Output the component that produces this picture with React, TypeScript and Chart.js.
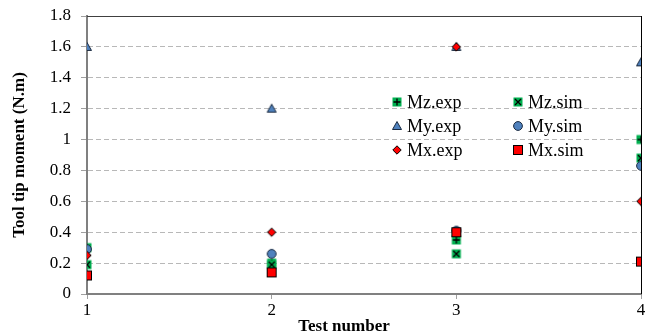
import React, { useEffect, useRef } from "react";
import { Chart, registerables } from "chart.js";

Chart.register(...registerables);

// Test numbers along the x axis
const testNumbers = [1, 2, 3, 4];

// Tool tip moments (N.m) per test
const mzExp = [0.3, 0.2, 0.35, 1.0];
const mzSim = [0.19, 0.19, 0.26, 0.88];
const myExp = [1.6, 1.2, 1.6, 1.5];
const mySim = [0.29, 0.26, 0.41, 0.83];
const mxExp = [0.25, 0.4, 1.6, 0.6];
const mxSim = [0.12, 0.14, 0.4, 0.21];

const yTicks = [0, 0.2, 0.4, 0.6, 0.8, 1, 1.2, 1.4, 1.6, 1.8];
const xTicks = [1, 2, 3, 4];

const seriesNames = ["Mz.exp", "Mz.sim", "My.exp", "My.sim", "Mx.exp", "Mx.sim"];

const FONT = "'Liberation Serif', 'Times New Roman', serif";
const GREEN = "#00b050";
const BLUE = "#4f81bd";
const RED = "#ff0000";

type Kind = "greenPlus" | "greenCross" | "triangle" | "circle" | "diamond" | "redSquare";

function makeMarker(kind: Kind): HTMLCanvasElement {
  const s = 12;
  const c = document.createElement("canvas");
  c.width = s;
  c.height = s;
  const g = c.getContext("2d")!;
  const m = s / 2;
  g.lineWidth = 1;
  if (kind === "greenPlus" || kind === "greenCross") {
    g.fillStyle = GREEN;
    g.fillRect(1.5, 1.5, 9, 9);
    g.strokeStyle = "#000";
    g.lineWidth = 1.3;
    g.beginPath();
    if (kind === "greenPlus") {
      g.moveTo(m, 2.5);
      g.lineTo(m, 9.5);
      g.moveTo(2.5, m);
      g.lineTo(9.5, m);
    } else {
      g.moveTo(3, 3);
      g.lineTo(9, 9);
      g.moveTo(9, 3);
      g.lineTo(3, 9);
    }
    g.stroke();
  } else if (kind === "triangle") {
    g.fillStyle = BLUE;
    g.strokeStyle = "#1a2a40";
    g.beginPath();
    g.moveTo(m, 1.5);
    g.lineTo(10.5, 9.5);
    g.lineTo(1.5, 9.5);
    g.closePath();
    g.fill();
    g.stroke();
  } else if (kind === "circle") {
    g.fillStyle = BLUE;
    g.strokeStyle = "#1a2a40";
    g.beginPath();
    g.arc(m, m, 4.4, 0, Math.PI * 2);
    g.fill();
    g.stroke();
  } else if (kind === "diamond") {
    g.fillStyle = RED;
    g.strokeStyle = "#000";
    g.beginPath();
    g.moveTo(m, 1.8);
    g.lineTo(10.2, m);
    g.lineTo(m, 10.2);
    g.lineTo(1.8, m);
    g.closePath();
    g.fill();
    g.stroke();
  } else {
    g.fillStyle = RED;
    g.strokeStyle = "#000";
    g.fillRect(1.5, 1.5, 9, 9);
    g.strokeRect(1.5, 1.5, 9, 9);
  }
  return c;
}

export default function App() {
  const ref = useRef<HTMLCanvasElement | null>(null);

  useEffect(() => {
    if (!ref.current) return;
    const kinds: Kind[] = ["greenPlus", "greenCross", "triangle", "circle", "diamond", "redSquare"];
    const markers = kinds.map(makeMarker);
    const values = [mzExp, mzSim, myExp, mySim, mxExp, mxSim];
    // lower order is drawn on top
    const orders = [5, 4, 3, 2, 1, 0];

    const datasets = seriesNames.map((name, i) => ({
      label: name,
      data: testNumbers.map((t, j) => ({ x: t, y: values[i][j] })),
      pointStyle: markers[i] as any,
      pointRadius: 5,
      showLine: false,
      order: orders[i],
    }));

    const decor = {
      id: "decor",
      afterDatasetsDraw(chart: any) {
        const { ctx, chartArea: a } = chart;
        ctx.save();
        // frame: top and right edges
        ctx.strokeStyle = "#404040";
        ctx.lineWidth = 1;
        ctx.beginPath();
        ctx.moveTo(a.left, a.top + 0.5);
        ctx.lineTo(a.right, a.top + 0.5);
        ctx.stroke();
        ctx.strokeStyle = "#000";
        ctx.beginPath();
        ctx.moveTo(a.right + 0.5, a.top);
        ctx.lineTo(a.right + 0.5, a.bottom);
        ctx.stroke();

        // legend
        ctx.font = `18px ${FONT}`;
        ctx.fillStyle = "#000";
        ctx.textBaseline = "middle";
        ctx.textAlign = "left";
        const colX = [397, 518];
        const rowY = [102, 126, 150];
        seriesNames.forEach((name, i) => {
          const cx = colX[i % 2];
          const cy = rowY[Math.floor(i / 2)];
          const m = markers[i];
          ctx.drawImage(m, cx - m.width / 2, cy - m.height / 2);
          ctx.fillText(name, cx + 10, cy + 1);
        });

        // axis titles
        ctx.font = `bold 17px ${FONT}`;
        ctx.textAlign = "center";
        ctx.fillText("Test number", 344, 327);
        ctx.translate(20, (a.top + a.bottom) / 2);
        ctx.rotate(-Math.PI / 2);
        ctx.fillText("Tool tip moment (N.m)", 0, 0);
        ctx.restore();
      },
    };

    const chart = new Chart(ref.current, {
      type: "scatter",
      data: { datasets: datasets as any },
      options: {
        animation: false,
        responsive: false,
        layout: { padding: { top: 16, right: 21, left: 0, bottom: 0 } },
        plugins: { legend: { display: false }, tooltip: { enabled: false } },
        scales: {
          x: {
            type: "linear",
            min: 1,
            max: 4,
            afterBuildTicks: (s: any) => {
              s.ticks = xTicks.map((v) => ({ value: v }));
            },
            afterFit: (s: any) => {
              s.height = 42;
              s.paddingLeft = 0;
              s.paddingRight = 0;
            },
            grid: {
              drawOnChartArea: false,
              drawTicks: true,
              tickLength: 5,
              tickColor: "#a0a0a0",
            },
            border: { display: true, color: "#808080", width: 2 },
            ticks: {
              color: "#000",
              font: { family: FONT, size: 17 },
              padding: 1,
              maxRotation: 0,
              callback: (v: any) => String(v),
            },
          },
          y: {
            type: "linear",
            min: 0,
            max: 1.8,
            afterBuildTicks: (s: any) => {
              s.ticks = yTicks.map((v) => ({ value: v }));
            },
            afterFit: (s: any) => {
              s.width = 87;
              s.paddingTop = 0;
              s.paddingBottom = 0;
            },
            grid: {
              color: (c: any) => (c.tick && c.tick.value >= 1.8 ? "rgba(0,0,0,0)" : "#b8b8b8"),
              lineWidth: 1,
              drawTicks: true,
              tickLength: 6,
              tickColor: "#a0a0a0",
              tickBorderDash: [],
            } as any,
            border: { display: true, color: "#808080", width: 2, dash: [5, 3] },
            ticks: {
              color: "#000",
              font: { family: FONT, size: 17 },
              padding: 10,
              callback: (v: any) => String(Number(Number(v).toFixed(1))),
            },
          },
        },
      },
      plugins: [decor],
    });
    return () => chart.destroy();
  }, []);

  return (
    <div style={{ position: "absolute", left: 0, top: 0, width: 662, height: 336, background: "#fff" }}>
      <canvas ref={ref} width={662} height={336} style={{ width: 662, height: 336 }} />
    </div>
  );
}
